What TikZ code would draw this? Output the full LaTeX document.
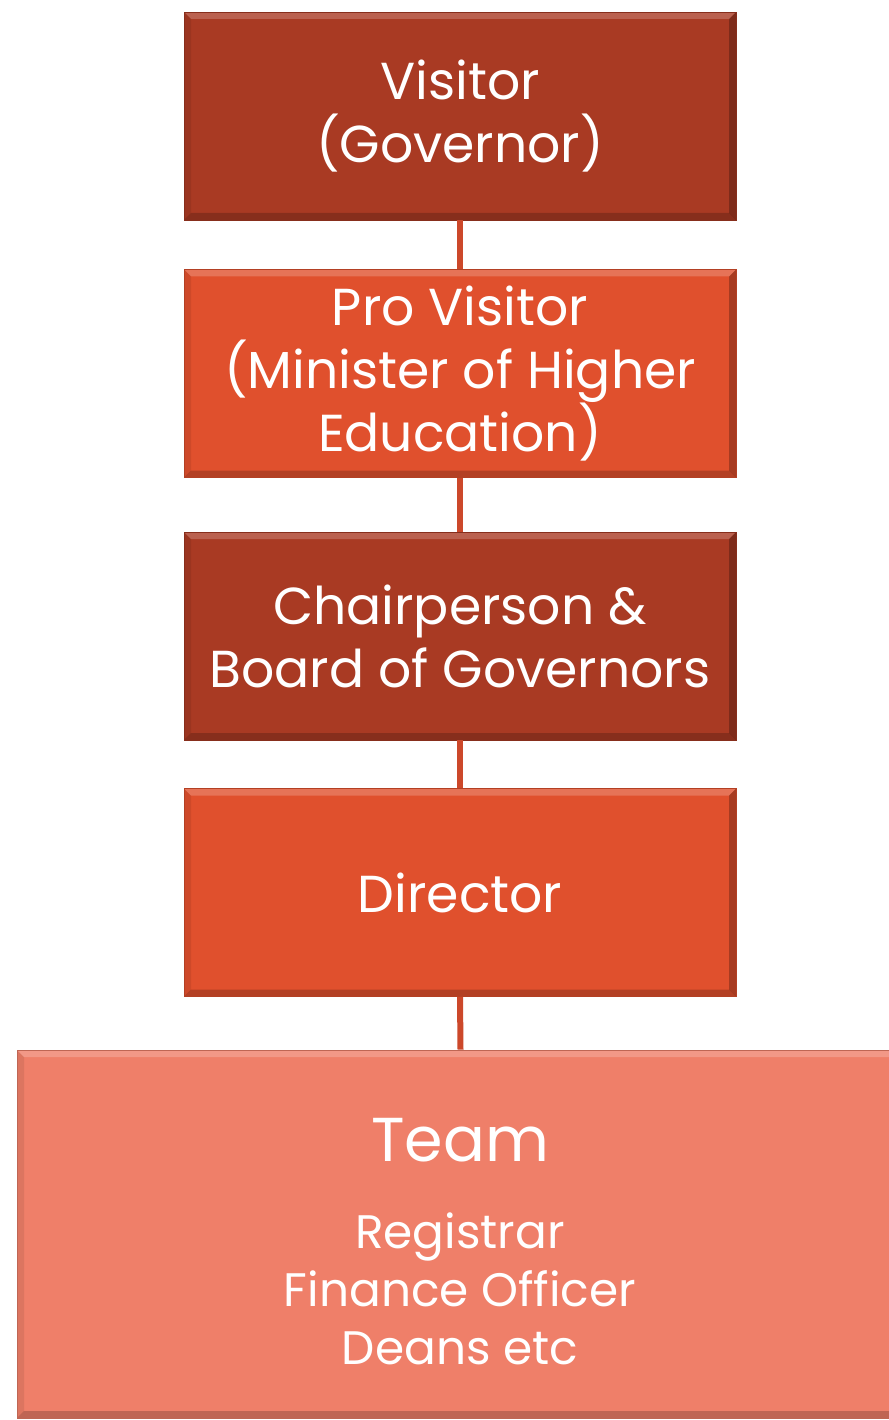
\documentclass[tikz,border=0pt]{standalone}
\usepackage{fontspec}
\setmainfont{Poppins}
\definecolor{darkbox}{HTML}{A93A23}
\definecolor{midbox}{HTML}{E0502D}
\definecolor{lightbox}{HTML}{EF7F69}
\definecolor{conncol}{HTML}{CC482A}
\tikzset{
  bevel/.style={path picture={
    \fill[white,opacity=.2] (path picture bounding box.north west) -- (path picture bounding box.north east)
      -- ([xshift=-7pt,yshift=-7pt]path picture bounding box.north east) -- ([xshift=7pt,yshift=-7pt]path picture bounding box.north west) -- cycle;
    \fill[black,opacity=.08] (path picture bounding box.north west) -- ([xshift=7pt,yshift=-7pt]path picture bounding box.north west)
      -- ([xshift=7pt,yshift=7pt]path picture bounding box.south west) -- (path picture bounding box.south west) -- cycle;
    \fill[black,opacity=.25] (path picture bounding box.north east) -- ([xshift=-7pt,yshift=-7pt]path picture bounding box.north east)
      -- ([xshift=-7pt,yshift=7pt]path picture bounding box.south east) -- (path picture bounding box.south east) -- cycle;
    \fill[black,opacity=.2] (path picture bounding box.south west) -- ([xshift=7pt,yshift=7pt]path picture bounding box.south west)
      -- ([xshift=-7pt,yshift=7pt]path picture bounding box.south east) -- (path picture bounding box.south east) -- cycle;
  }},
  orgbox/.style={rectangle, bevel, draw=#1!80!black, line width=0.6pt, fill=#1, text=white,
    minimum width=552pt, minimum height=208pt, inner sep=0pt, align=center,
    font=\fontsize{52}{63}\selectfont},
  conn/.style={conncol, line width=6pt},
}
\begin{document}
\begin{tikzpicture}[x=1pt,y=-1pt]
\useasboundingbox (0,0) rectangle (888,1420);
\fill[white] (0,0) rectangle (888,1420);
\node[orgbox=darkbox] (visitor) at (460,116) {Visitor\\(Governor)};
\node[orgbox=midbox] (provisitor) at (460,373.5) {Pro Visitor\\(Minister of Higher\\Education)};
\node[orgbox=darkbox] (board) at (460,636) {Chairperson \&\\Board of Governors};
\node[orgbox=midbox] (director) at (460,892.5) {Director};
\node[orgbox=lightbox, minimum width=887pt, minimum height=368pt] (team) at (460.5,1234) {};
\node[text=white, font=\fontsize{62}{70}\selectfont] (teamtitle) at (460,1140) {Team};
\node[text=white, align=center, font=\fontsize{47}{58}\selectfont] (teamlist) at (460,1289) {Registrar\\Finance Officer\\Deans etc};
\draw[conn] (visitor.south) -- (provisitor.north);
\draw[conn] (provisitor.south) -- (board.north);
\draw[conn] (board.south) -- (director.north);
\draw[conn] (director.south) -- (team.north);
\end{tikzpicture}
\end{document}
